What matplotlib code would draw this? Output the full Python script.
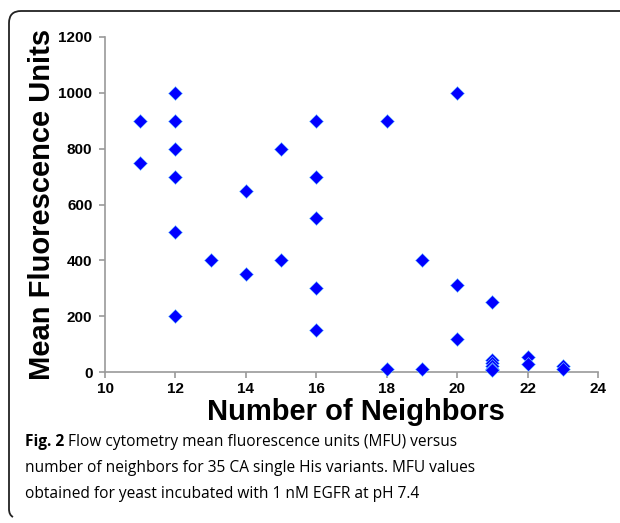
import matplotlib
matplotlib.use("Agg")
import matplotlib.pyplot as plt
from matplotlib.path import Path
from matplotlib.patches import PathPatch

neighbors = [11, 11,
             12, 12, 12, 12, 12, 12,
             13,
             14, 14,
             15, 15,
             16, 16, 16, 16, 16,
             18, 18,
             19, 19,
             20, 20, 20,
             21, 21, 21, 21, 21, 21,
             22, 22,
             23, 23]
mfu = [900, 750,
       1000, 900, 800, 700, 500, 200,
       400,
       650, 350,
       800, 400,
       900, 700, 550, 300, 150,
       900, 10,
       400, 10,
       1000, 310, 120,
       250, 42, 32, 22, 12, 6,
       52, 30,
       20, 10]

x_ticks = [10, 12, 14, 16, 18, 20, 22, 24]
y_ticks = [0, 200, 400, 600, 800, 1000, 1200]
x_label = "Number of Neighbors"
y_label = "Mean Fluorescence Units"
caption_bold = "Fig. 2"
caption_lines = [" Flow cytometry mean fluorescence units (MFU) versus",
                 "number of neighbors for 35 CA single His variants. MFU values",
                 "obtained for yeast incubated with 1 nM EGFR at pH 7.4"]

W, H = 620, 523
fig = plt.figure(figsize=(W / 100, H / 100), dpi=100)
fig.patch.set_facecolor("white")

ax = fig.add_axes([105 / W, 1 - 372 / H, 493 / W, 335 / H])
ax.scatter(neighbors, mfu, marker="D", s=50, color="#0000ff",
           edgecolors="#7fd0ff", linewidths=0.4, zorder=3, clip_on=False)
ax.set_xlim(10, 24)
ax.set_ylim(0, 1200)
ax.set_xticks(x_ticks)
ax.set_yticks(y_ticks)
for s in ["top", "right"]:
    ax.spines[s].set_visible(False)
for s in ["left", "bottom"]:
    ax.spines[s].set_color("#9a9a9a")
    ax.spines[s].set_linewidth(1.2)
ax.tick_params(axis="both", direction="out", length=4, width=1.2,
               color="#9a9a9a", labelsize=11)
ax.tick_params(axis="x", pad=3.5)
ax.tick_params(axis="y", pad=5)
for lab in ax.get_xticklabels() + ax.get_yticklabels():
    lab.set_fontfamily("Liberation Sans")
    lab.set_fontweight("bold")

fig.text(356 / W, 1 - 412 / H, x_label, ha="center", va="center",
         fontsize=21, fontweight="bold", family="Liberation Sans")
fig.text(42 / W, 1 - 204 / H, y_label, ha="center", va="center",
         rotation=90, fontsize=21, fontweight="bold", family="Liberation Sans")

# caption
cap_size = 11.2
t = fig.text(25 / W, 1 - 442 / H, caption_bold, ha="left", va="center",
             fontsize=cap_size, fontweight="bold", family="Open Sans")
fig.canvas.draw()
bb = t.get_window_extent()
fig.text(bb.x1 / W, 1 - 442 / H, caption_lines[0], ha="left", va="center",
         fontsize=cap_size, family="Open Sans")
fig.text(25 / W, 1 - 468 / H, caption_lines[1], ha="left", va="center",
         fontsize=cap_size, family="Open Sans")
fig.text(25 / W, 1 - 494 / H, caption_lines[2], ha="left", va="center",
         fontsize=cap_size, family="Open Sans")

# frame (pixel coords, y down)
pts = [(620, 11), (21, 11), (9, 11), (9, 23), (9, 509), (9, 515), (13, 517)]
codes = [Path.MOVETO, Path.LINETO, Path.CURVE3, Path.CURVE3, Path.LINETO, Path.CURVE3, Path.CURVE3]
verts = [(x / W, 1 - y / H) for x, y in pts]
frame = PathPatch(Path(verts, codes), fill=False, edgecolor="#222222",
                  linewidth=1.3, transform=fig.transFigure)
fig.add_artist(frame)

fig.savefig("out.png", dpi=100)
